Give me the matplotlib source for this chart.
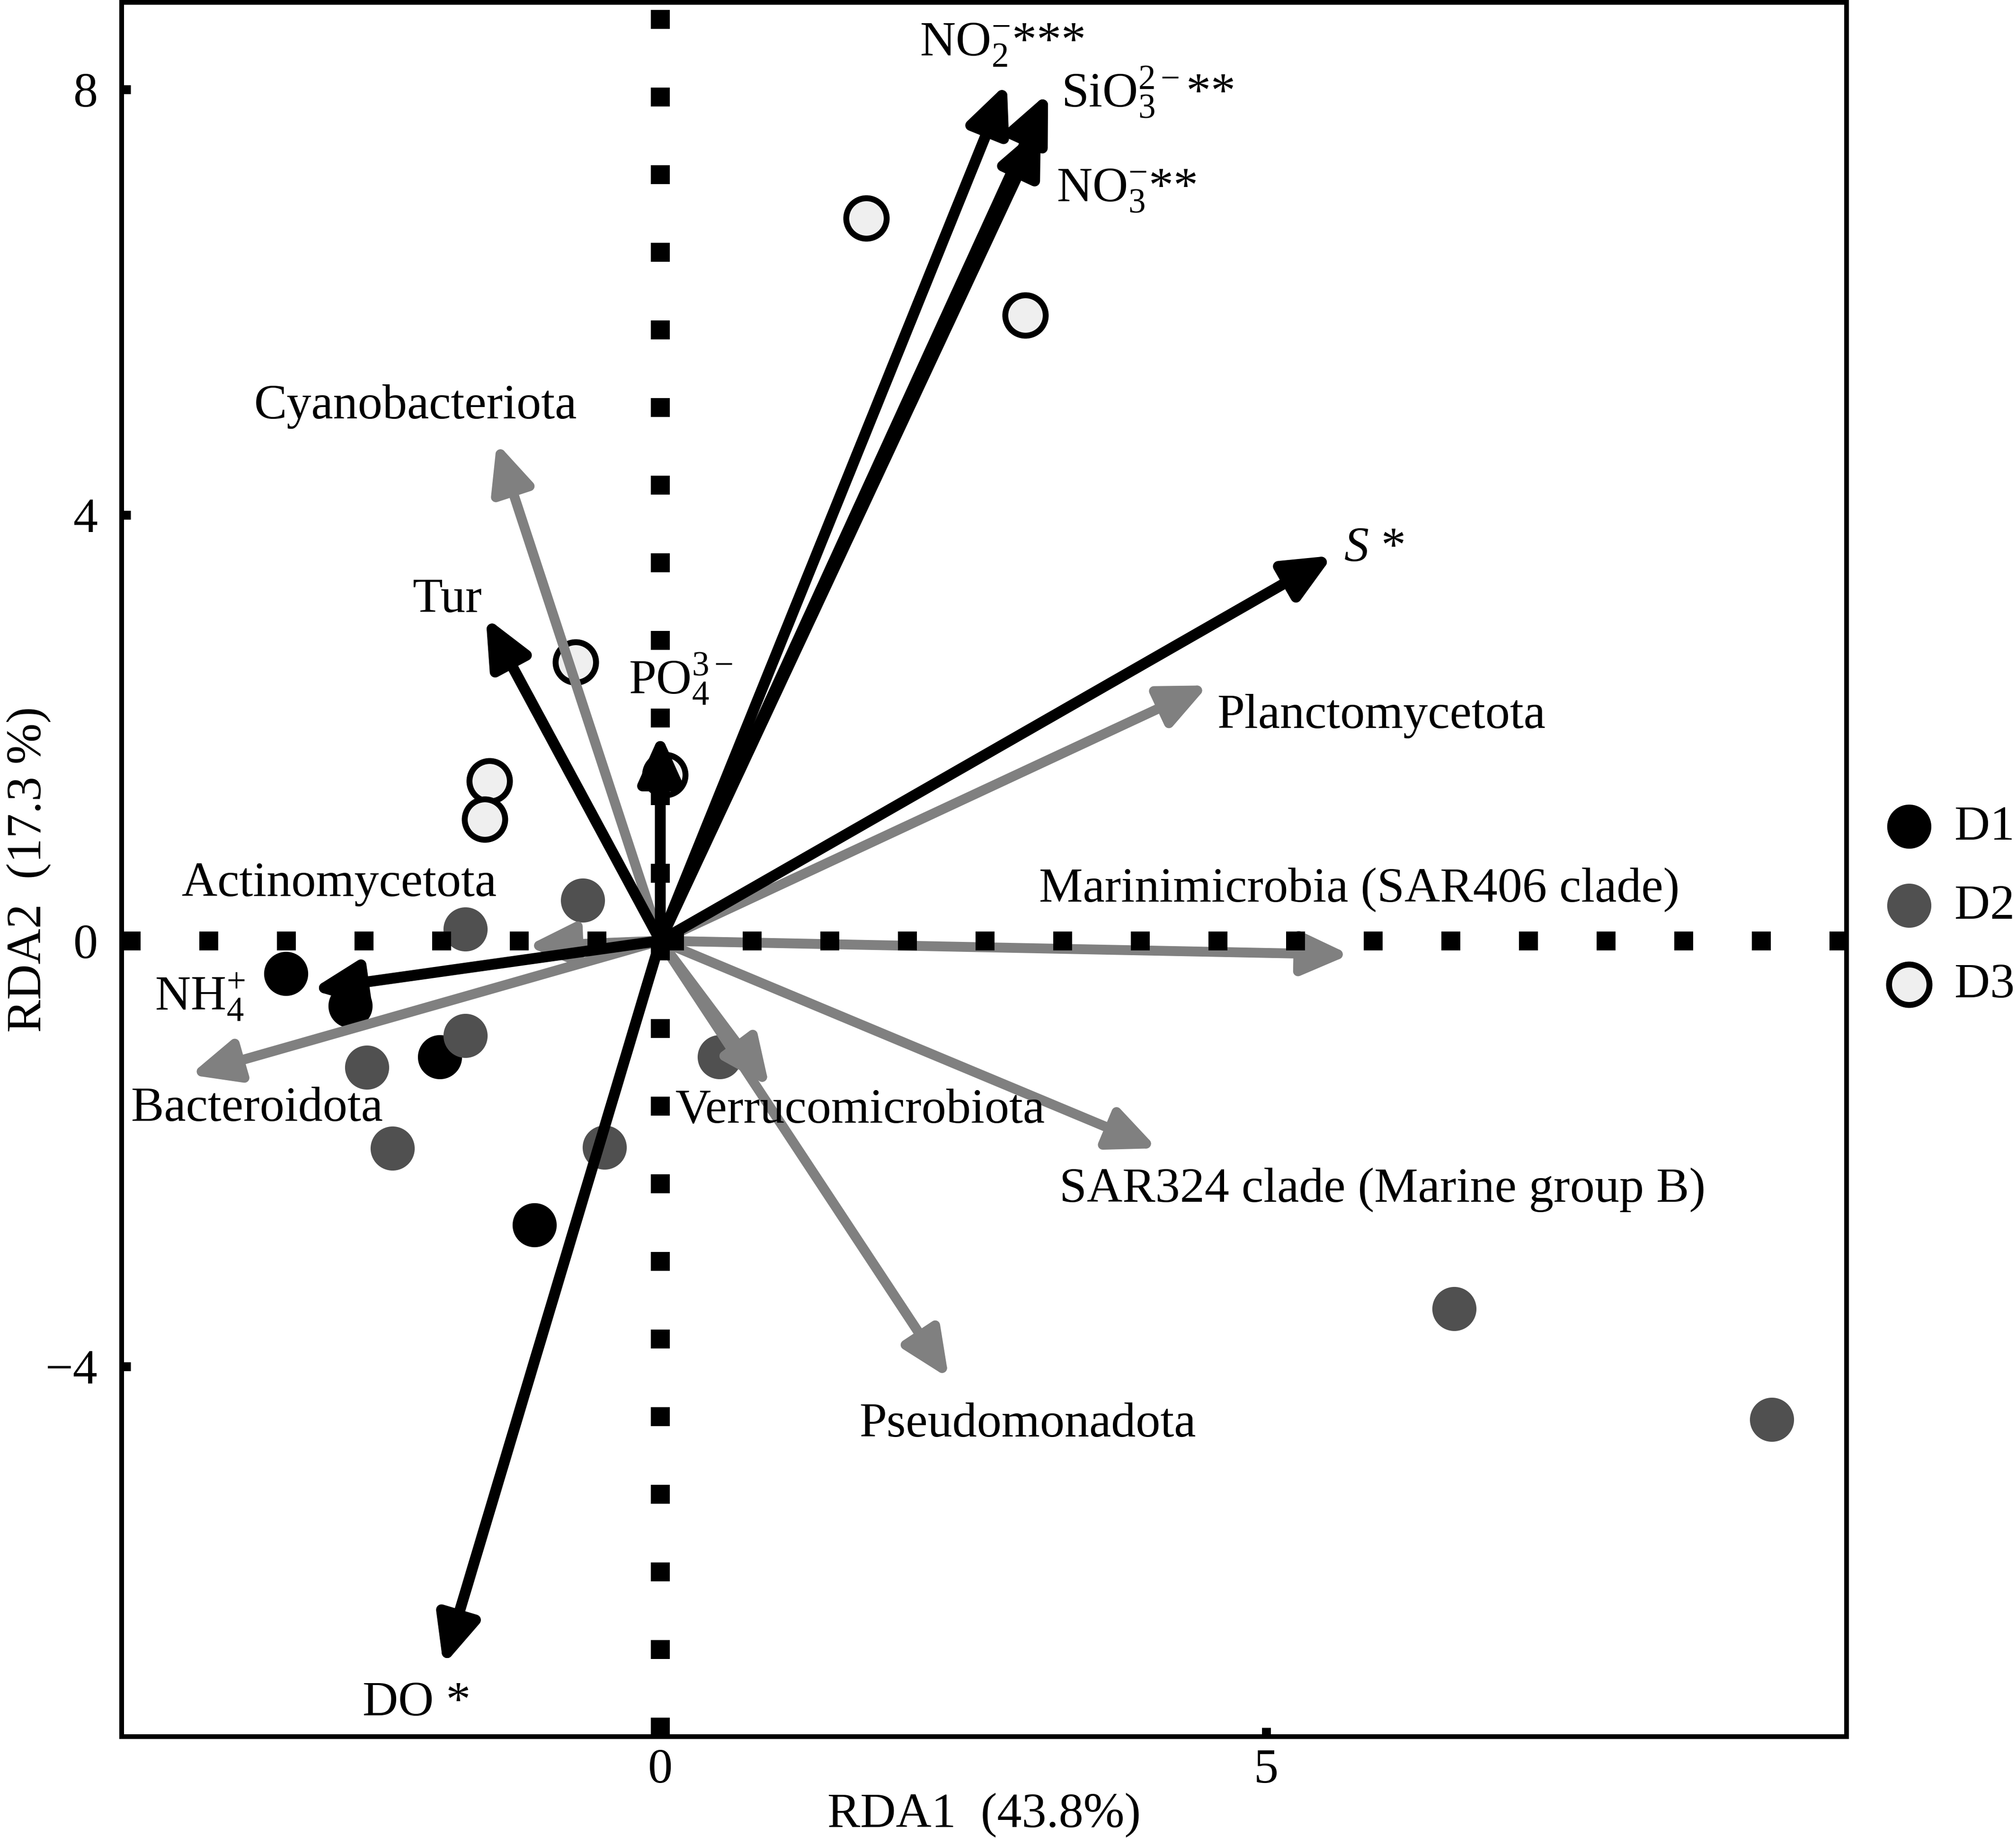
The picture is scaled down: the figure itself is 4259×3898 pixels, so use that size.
import matplotlib
matplotlib.use("Agg")
import matplotlib.pyplot as plt
from matplotlib.patches import FancyArrowPatch

plt.rcParams['font.family'] = ['Liberation Serif', 'DejaVu Serif']
plt.rcParams['mathtext.fontset'] = 'custom'
plt.rcParams['mathtext.rm'] = 'Liberation Serif'
plt.rcParams['mathtext.it'] = 'Liberation Serif:italic'
plt.rcParams['mathtext.bf'] = 'Liberation Serif:bold'

# ---------------- data ----------------
groups = ['D1', 'D2', 'D3']
d1_x = [-3.09, -2.56, -1.82, -1.04]
d1_y = [-0.31, -0.61, -1.09, -2.67]
d2_x = [-0.64, -1.61, -1.61, -2.42, -2.21, -0.46, 0.49, 6.55, 9.17]
d2_y = [0.38, 0.11, -0.89, -1.19, -1.95, -1.94, -1.09, -3.46, -4.50]
d3_x = [1.70, 3.01, -0.70, -1.41, -1.45, 0.04]
d3_y = [6.79, 5.88, 2.62, 1.50, 1.14, 1.56]

env_labels = [r'NO$_2^{-}$***', r'SiO$_3^{2-}$**', r'NO$_3^{-}$**', r'$S$ *',
              'Tur', r'PO$_4^{3-}$', r'NH$_4^{+}$', 'DO *']
env_x = [2.86, 3.20, 3.14, 5.55, -1.44, 0.00, -2.88, -1.79]
env_y = [8.06, 7.97, 7.66, 3.62, 3.04, 1.95, -0.46, -6.81]

taxa_labels = ['Cyanobacteriota', 'Planctomycetota', 'Marinimicrobia (SAR406 clade)',
               'SAR324 clade (Marine group B)', 'Pseudomonadota', 'Verrucomicrobiota',
               'Bacteroidota', 'Actinomycetota']
taxa_x = [-1.35, 4.52, 5.69, 4.10, 2.38, 0.90, -3.88, -1.10]
taxa_y = [4.68, 2.40, -0.13, -1.95, -4.11, -1.37, -1.26, -0.05]

x_ticks = [0, 5]
y_ticks = [8, 4, 0, -4]
xlabel = 'RDA1  (43.8%)'
ylabel = 'RDA2  (17.3 %)'

# ---------------- layout (label placement) ----------------
env_text_pos = [(2.14, 8.42, 'left'), (3.31, 7.97, 'left'), (3.27, 7.05, 'left'),
                (5.64, 3.68, 'left'), (-1.76, 3.20, 'center'), (0.17, 2.46, 'center'),
                (-3.80, -0.53, 'center'), (-2.01, -7.17, 'center')]
taxa_text_pos = [(-2.02, 5.02), (5.95, 2.11), (5.77, 0.48), (5.96, -2.34),
                 (3.03, -4.55), (1.65, -1.60), (-3.33, -1.58), (-2.65, 0.53)]

FS = 25
W, H, DPI = 4259, 3898, 300
fig = plt.figure(figsize=(W / DPI, H / DPI), dpi=DPI)
ax = fig.add_axes([257 / W, 1 - 3669 / H, (3901 - 257) / W, (3669 - 5) / H])
ax.set_xlim(-4.445, 9.789)
ax.set_ylim(-7.48, 8.82)

# points
ax.scatter(d1_x, d1_y, s=500, c='#000000', linewidths=0, zorder=2, label=groups[0])
ax.scatter(d2_x, d2_y, s=500, c='#505050', linewidths=0, zorder=2, label=groups[1])
ax.scatter(d3_x, d3_y, s=420, c='#efefef', edgecolors='#000000', linewidths=3,
           zorder=2, label=groups[2])

def arrow(x, y, color, lw, z):
    p = FancyArrowPatch((0, 0), (x, y), arrowstyle='-|>,head_length=20,head_width=9',
                        mutation_scale=1, color=color, lw=lw, shrinkA=0, shrinkB=0,
                        joinstyle='round', capstyle='round', zorder=z)
    ax.add_patch(p)

for x, y in zip(taxa_x, taxa_y):
    arrow(x, y, '#808080', 5.0, 3)
for x, y in zip(env_x, env_y):
    arrow(x, y, '#000000', 5.5, 3.5)

# zero lines (square dots)
ax.axhline(0, color='k', lw=9.6, ls=(0, (1, 3.1)), dash_capstyle='butt', zorder=4)
ax.axvline(0, color='k', lw=9.6, ls=(0, (1, 3.1)), dash_capstyle='butt', zorder=4)

for lab, (tx, ty, ha) in zip(env_labels, env_text_pos):
    ax.text(tx, ty, lab, fontsize=FS, ha=ha, va='center', zorder=5)
for lab, (tx, ty) in zip(taxa_labels, taxa_text_pos):
    ax.text(tx, ty, lab, fontsize=FS, ha='center', va='center', zorder=5)

ax.set_xticks(x_ticks)
ax.set_yticks(y_ticks)
ax.tick_params(direction='in', length=4.5, width=4.5, labelsize=FS)
ax.tick_params(axis='x', pad=6)
ax.tick_params(axis='y', pad=12)
for sp in ax.spines.values():
    sp.set_linewidth(2.4)
ax.set_xlabel(xlabel, fontsize=FS, labelpad=0)
ax.set_ylabel(ylabel, fontsize=FS)
ax.yaxis.set_label_coords(-0.0409, 0.5)

ax.legend(loc='center left', bbox_to_anchor=(0.9347, 0.5087), bbox_transform=fig.transFigure,
          frameon=False, fontsize=FS, handlelength=1.0, handletextpad=0.42,
          labelspacing=0.69, borderpad=0, borderaxespad=0, scatterpoints=1)

fig.savefig('out.png', dpi=DPI)
